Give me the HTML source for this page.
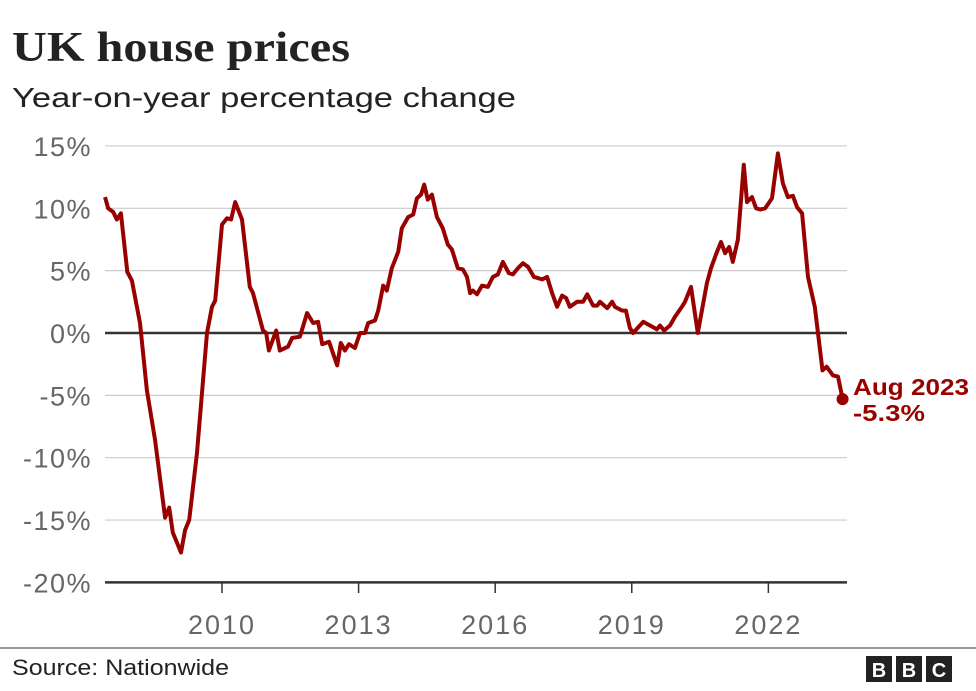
<!DOCTYPE html>
<html><head><meta charset="utf-8"><style>
body{margin:0;background:#fff;width:976px;height:686px;overflow:hidden;font-family:"Liberation Sans",sans-serif}
</style></head><body>
<svg width="976" height="686" viewBox="0 0 976 686">
<text x="12" y="61" font-family="Liberation Serif,serif" font-weight="bold" font-size="42" fill="#222" textLength="338" lengthAdjust="spacingAndGlyphs">UK house prices</text>
<text x="12" y="107" font-size="28" fill="#222" textLength="504" lengthAdjust="spacingAndGlyphs">Year-on-year percentage change</text>
<g id="grid"></g>
<g id="ylab"></g>
<g id="xlab"></g>
<path id="line" fill="none" stroke="#990000" stroke-width="4" stroke-linejoin="round"/>
<circle id="endpt" r="6" fill="#990000"/>
<text x="853" y="395" font-size="23" font-weight="bold" fill="#990000" textLength="116" lengthAdjust="spacingAndGlyphs">Aug 2023</text>
<text x="853" y="421" font-size="23" font-weight="bold" fill="#990000" textLength="72" lengthAdjust="spacingAndGlyphs">-5.3%</text>
<line x1="0" y1="648" x2="976" y2="648" stroke="#333" stroke-width="1"/>
<text x="12" y="675" font-size="22" fill="#222" textLength="217" lengthAdjust="spacingAndGlyphs">Source: Nationwide</text>
<g>
<rect x="866" y="656" width="26" height="26" fill="#222"/><text x="879" y="677" font-size="20" font-weight="bold" fill="#fff" text-anchor="middle">B</text>
<rect x="896" y="656" width="26" height="26" fill="#222"/><text x="909" y="677" font-size="20" font-weight="bold" fill="#fff" text-anchor="middle">B</text>
<rect x="926" y="656" width="26" height="26" fill="#222"/><text x="939" y="677" font-size="20" font-weight="bold" fill="#fff" text-anchor="middle">C</text>
</g>
</svg>
<script>
const yTicks=[15,10,5,0,-5,-10,-15,-20];
const yTickLabels=["15%","10%","5%","0%","-5%","-10%","-15%","-20%"];
const xTicks=[2010,2013,2016,2019,2022];
const dates=[2007.43,2007.5,2007.61,2007.69,2007.78,2007.92,2008.02,2008.2,2008.35,2008.53,2008.75,2008.84,2008.92,2009.1,2009.19,2009.28,2009.45,2009.67,2009.78,2009.85,2010,2010.11,2010.2,2010.29,2010.44,2010.61,2010.68,2010.9,2010.97,2011.03,2011.19,2011.27,2011.45,2011.54,2011.71,2011.87,2012,2012.11,2012.2,2012.35,2012.53,2012.61,2012.7,2012.79,2012.92,2013.03,2013.14,2013.21,2013.36,2013.43,2013.54,2013.62,2013.73,2013.87,2013.95,2014.09,2014.2,2014.28,2014.37,2014.44,2014.52,2014.61,2014.72,2014.85,2014.96,2015.05,2015.18,2015.29,2015.38,2015.45,2015.51,2015.6,2015.71,2015.84,2015.95,2016.06,2016.17,2016.3,2016.39,2016.5,2016.61,2016.72,2016.85,2016.94,2017.03,2017.14,2017.25,2017.36,2017.47,2017.56,2017.64,2017.8,2017.93,2018.02,2018.15,2018.24,2018.3,2018.46,2018.57,2018.63,2018.79,2018.87,2018.96,2019.03,2019.25,2019.4,2019.55,2019.62,2019.71,2019.84,2019.95,2020.1,2020.17,2020.3,2020.45,2020.65,2020.74,2020.85,2020.96,2021.05,2021.14,2021.22,2021.33,2021.46,2021.53,2021.64,2021.73,2021.82,2021.93,2022.08,2022.21,2022.32,2022.43,2022.54,2022.63,2022.74,2022.87,2023.02,2023.19,2023.28,2023.42,2023.53,2023.63];
const values=[10.9,10,9.7,9.1,9.6,4.9,4.2,0.8,-4.6,-8.6,-14.8,-14,-16,-17.6,-15.8,-15,-9.6,0,2.1,2.6,8.7,9.2,9.1,10.5,9.1,3.7,3.2,0.2,0,-1.4,0.2,-1.4,-1.1,-0.4,-0.3,1.6,0.8,0.9,-0.9,-0.7,-2.6,-0.8,-1.4,-0.9,-1.2,0,0,0.8,1,1.8,3.8,3.4,5.2,6.5,8.4,9.3,9.5,10.8,11.1,11.9,10.7,11.1,9.3,8.4,7.1,6.7,5.2,5.1,4.5,3.2,3.4,3.1,3.8,3.7,4.5,4.7,5.7,4.8,4.7,5.2,5.6,5.3,4.5,4.4,4.3,4.5,3.2,2.1,3,2.8,2.1,2.5,2.5,3.1,2.2,2.2,2.5,2,2.5,2.1,1.8,1.8,0.4,0,0.9,0.6,0.3,0.6,0.2,0.6,1.3,2.1,2.5,3.7,0,4,5.2,6.3,7.3,6.4,6.9,5.7,7.5,13.5,10.5,10.9,10,9.9,10,10.8,14.4,12,10.9,11,10.1,9.6,4.5,2.1,-3,-2.7,-3.4,-3.5,-5.3];
const X=y=>222+(y-2010)*45.53, Y=v=>333-v*12.47;
const ns="http://www.w3.org/2000/svg";
const grid=document.getElementById('grid'),ylab=document.getElementById('ylab'),xlab=document.getElementById('xlab');
yTicks.forEach((t,i)=>{
 const l=document.createElementNS(ns,'line');
 
 
 l.setAttribute('x1',105);l.setAttribute('x2',847);l.setAttribute('y1',Y(t));l.setAttribute('y2',Y(t));
 const strong=(t===0||t===-20);
 l.setAttribute('stroke',strong?'#333':'#ccc');l.setAttribute('stroke-width',strong?2.5:1.2);
 grid.appendChild(l);
 const tx=document.createElementNS(ns,'text');
 
 
 tx.setAttribute('x',92);tx.setAttribute('y',Y(t)+10);tx.setAttribute('text-anchor','end');
 tx.setAttribute('font-size','27');tx.setAttribute('letter-spacing','1.5');tx.setAttribute('fill','#666');tx.textContent=yTickLabels[i];
 ylab.appendChild(tx);
});
xTicks.forEach(t=>{
 const l=document.createElementNS(ns,'line');
 
 
 l.setAttribute('x1',X(t));l.setAttribute('x2',X(t));l.setAttribute('y1',583);l.setAttribute('y2',593);
 l.setAttribute('stroke','#333');l.setAttribute('stroke-width',1.5);
 xlab.appendChild(l);
 const tx=document.createElementNS(ns,'text');
 
 
 tx.setAttribute('x',X(t));tx.setAttribute('y',634);tx.setAttribute('text-anchor','middle');
 tx.setAttribute('font-size','27');tx.setAttribute('letter-spacing','2');tx.setAttribute('fill','#666');tx.textContent=t;
 xlab.appendChild(tx);
});
document.getElementById('line').setAttribute('d',dates.map((d,i)=>(i?'L':'M')+X(d).toFixed(1)+' '+Y(values[i]).toFixed(1)).join(''));
const n=dates.length-1;
const e=document.getElementById('endpt');e.setAttribute('cx',X(dates[n]));e.setAttribute('cy',Y(values[n]));
</script>
</body></html>
